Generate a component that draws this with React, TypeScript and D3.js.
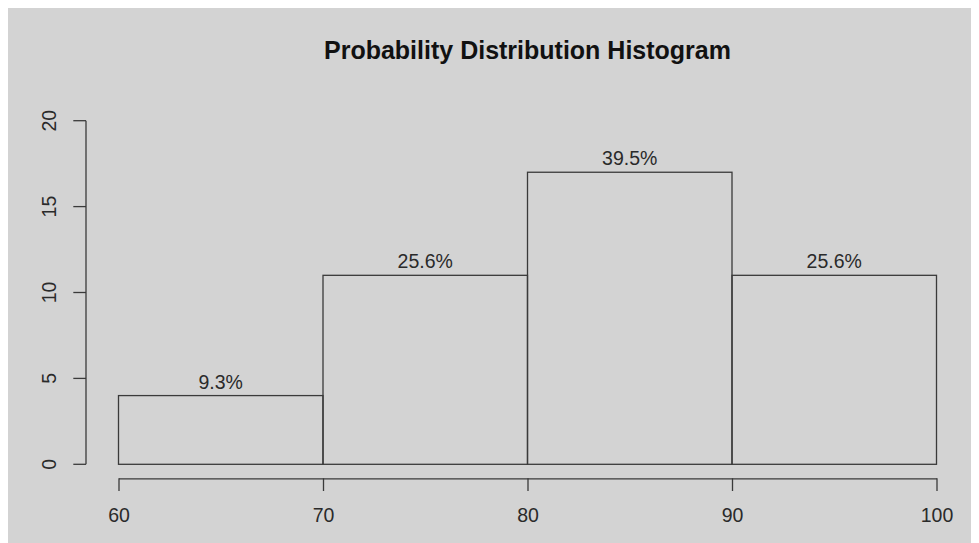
import { useEffect, useRef } from "react";
import * as d3 from "d3";

// Histogram bins and their counts
const binEdges = [60, 70, 80, 90, 100];
const binCounts = [4, 11, 17, 11];
const xTickValues = [60, 70, 80, 90, 100];
const yTickValues = [0, 5, 10, 15, 20];
const chartTitle = "Probability Distribution Histogram";

const width = 971;
const height = 535;
const marginLeft = 110.5;
const marginRight = 42.5;
const marginTop = 112.7;
const marginBottom = 78.7;
const bg = "#d3d3d3";
const ink = "#3a3a3a";
const font = "'Liberation Sans', Arial, Helvetica, sans-serif";
const labelSize = 19.5;

export default function App() {
  const ref = useRef<SVGSVGElement>(null);

  useEffect(() => {
    if (!ref.current) return;
    d3.select(ref.current).selectAll("*").remove();

    const x = d3
      .scaleLinear()
      .domain([60, 100])
      .range([marginLeft, width - marginRight]);

    const y = d3
      .scaleLinear()
      .domain([0, 20])
      .range([height - marginBottom, marginTop]);

    const svg = d3
      .select(ref.current)
      .attr("width", width)
      .attr("height", height)
      .attr("viewBox", [0, 0, width, height])
      .style("display", "block")
      .style("font-family", font);

    svg.append("rect").attr("width", width).attr("height", height).attr("fill", bg);

    const total = d3.sum(binCounts);
    const pct = d3.format(".1%");
    const bins = binCounts.map((count, i) => ({
      x0: binEdges[i],
      x1: binEdges[i + 1],
      count,
    }));

    // Bars
    svg
      .append("g")
      .selectAll("rect")
      .data(bins)
      .join("rect")
      .attr("x", (d) => x(d.x0))
      .attr("y", (d) => y(d.count))
      .attr("width", (d) => x(d.x1) - x(d.x0))
      .attr("height", (d) => y(0) - y(d.count))
      .attr("fill", "none")
      .attr("stroke", ink)
      .attr("stroke-width", 1.3);

    // Percent labels over bars
    svg
      .append("g")
      .selectAll("text")
      .data(bins)
      .join("text")
      .attr("x", (d) => (x(d.x0) + x(d.x1)) / 2)
      .attr("y", (d) => y(d.count) - 7)
      .attr("text-anchor", "middle")
      .attr("font-size", labelSize)
      .attr("fill", "#2a2a2a")
      .text((d) => pct(d.count / total));

    // x axis (R style, offset below the plot)
    const xAxisY = y(0) + 14;
    svg
      .append("g")
      .attr("transform", `translate(0,${xAxisY})`)
      .call(
        d3
          .axisBottom(x)
          .tickValues(xTickValues)
          .tickSize(12.7)
          .tickSizeOuter(0)
          .tickPadding(17.5)
      )
      .call((g) => g.selectAll("path, line").attr("stroke", ink).attr("stroke-width", 1.3))
      .call((g) =>
        g
          .selectAll("text")
          .attr("font-size", labelSize)
          .attr("font-family", font)
          .attr("fill", "#2a2a2a")
      );

    // y axis with rotated labels
    const yAxisX = 78;
    const yAxis = svg.append("g").attr("transform", `translate(${yAxisX},0)`);
    yAxis
      .append("line")
      .attr("y1", y(20))
      .attr("y2", y(0))
      .attr("stroke", ink)
      .attr("stroke-width", 1.3);
    yAxis
      .selectAll("line.tick")
      .data(yTickValues)
      .join("line")
      .classed("tick", true)
      .attr("x1", -12.7)
      .attr("x2", 0)
      .attr("y1", (d) => y(d))
      .attr("y2", (d) => y(d))
      .attr("stroke", ink)
      .attr("stroke-width", 1.3);
    yAxis
      .selectAll("text")
      .data(yTickValues)
      .join("text")
      .attr("transform", (d) => `translate(-30,${y(d)}) rotate(-90)`)
      .attr("text-anchor", "middle")
      .attr("font-size", labelSize)
      .attr("fill", "#2a2a2a")
      .text((d) => d);

    // Title
    svg
      .append("text")
      .attr("x", (x(60) + x(100)) / 2)
      .attr("y", 51.3)
      .attr("text-anchor", "middle")
      .attr("font-size", 25)
      .attr("font-weight", "bold")
      .attr("fill", "#111")
      .text(chartTitle);
  }, []);

  return <svg ref={ref} />;
}
